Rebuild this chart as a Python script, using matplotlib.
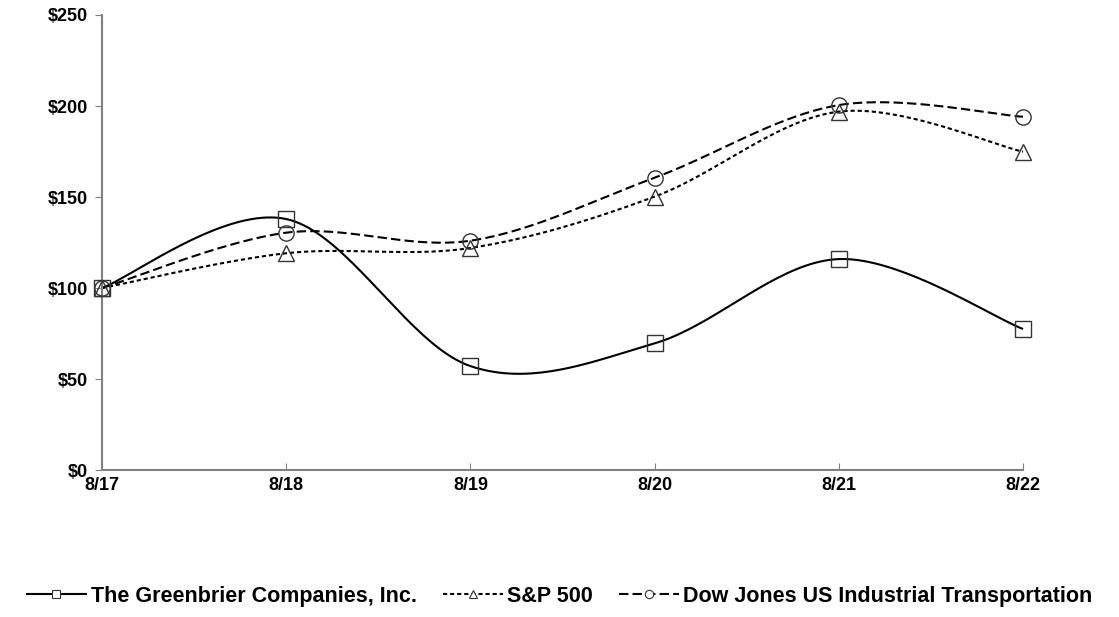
import matplotlib
matplotlib.use("Agg")
import matplotlib.pyplot as plt
from matplotlib.lines import Line2D
import numpy as np

years = ["8/17", "8/18", "8/19", "8/20", "8/21", "8/22"]
greenbrier = [100, 137.9, 57.1, 69.6, 115.9, 77.5]
sp500 = [100, 119.1, 122.0, 150.2, 196.9, 174.9]
dow_transport = [100, 130.4, 126.0, 160.6, 200.5, 194.1]

plt.rcParams['font.family'] = ['Liberation Sans', 'DejaVu Sans']
plt.rcParams['font.weight'] = 'bold'


def smooth(xs, ys, n=40):
    # excel-style smoothed line: catmull-rom bezier segments
    xs = np.asarray(xs, float)
    ys = np.asarray(ys, float)
    px = np.concatenate([[xs[0]], xs, [xs[-1]]])
    py = np.concatenate([[ys[0]], ys, [ys[-1]]])
    out_x, out_y = [], []
    t = np.linspace(0, 1, n)
    for i in range(1, len(xs)):
        x0, x1, x2, x3 = px[i - 1], px[i], px[i + 1], px[i + 2]
        y0, y1, y2, y3 = py[i - 1], py[i], py[i + 1], py[i + 2]
        bx = [x1, x1 + (x2 - x0) / 6, x2 - (x3 - x1) / 6, x2]
        by = [y1, y1 + (y2 - y0) / 6, y2 - (y3 - y1) / 6, y2]
        b = [(1 - t) ** 3, 3 * (1 - t) ** 2 * t, 3 * (1 - t) * t ** 2, t ** 3]
        out_x.extend(sum(c * v for c, v in zip(b, bx)))
        out_y.extend(sum(c * v for c, v in zip(b, by)))
    return np.array(out_x), np.array(out_y)


fig = plt.figure(figsize=(11.19, 6.17), dpi=100)
ax = fig.add_axes([0.0912, 0.2382, 0.823, 0.7375])

x = np.arange(len(years))
series = [
    ("The Greenbrier Companies, Inc.", greenbrier, "s", (0, ()), 11),
    ("S&P 500", sp500, "^", (0, (2.0, 1.4)), 11),
    ("Dow Jones US Industrial Transportation", dow_transport, "o", (0, (4.5, 2.0)), 11),
]

handles = []
for name, vals, mk, ls, ms in series:
    sx, sy = smooth(x, vals)
    ax.plot(sx, sy, color="black", lw=1.5, linestyle=ls, zorder=2, clip_on=False)
    ax.plot(x, vals, linestyle="none", marker=mk, markersize=ms,
            markerfacecolor="none", markeredgecolor="#333333",
            markeredgewidth=1.0, zorder=3, clip_on=False)
    handles.append(Line2D([0], [0], color="black", lw=1.5, linestyle=ls,
                          marker=mk, markersize=6, markerfacecolor="white",
                          markeredgecolor="#333333", markeredgewidth=0.8))

ax.set_xlim(0, len(years) - 1)
ax.set_ylim(0, 250)
ax.set_yticks(np.arange(0, 251, 50))
ax.set_yticklabels(["$%d" % v for v in range(0, 251, 50)])
ax.set_xticks(x)
ax.set_xticklabels(years)

for side in ["top", "right"]:
    ax.spines[side].set_visible(False)
for side in ["left", "bottom"]:
    ax.spines[side].set_color("#808080")
    ax.spines[side].set_linewidth(1.5)

ax.tick_params(axis="y", direction="out", length=5, color="#808080",
               labelsize=13, pad=5)
ax.tick_params(axis="x", direction="in", length=5, color="#808080",
               labelsize=13, pad=5)
for lab in ax.get_xticklabels() + ax.get_yticklabels():
    lab.set_fontweight("bold")

leg = fig.legend(handles, [s[0] for s in series], loc="center",
                 bbox_to_anchor=(0.5, 0.034), ncol=3, frameon=False,
                 handlelength=2.8, columnspacing=1.2,
                 handletextpad=0.2, prop={"weight": "bold", "size": 15.5})

fig.savefig("out.png", dpi=100)
